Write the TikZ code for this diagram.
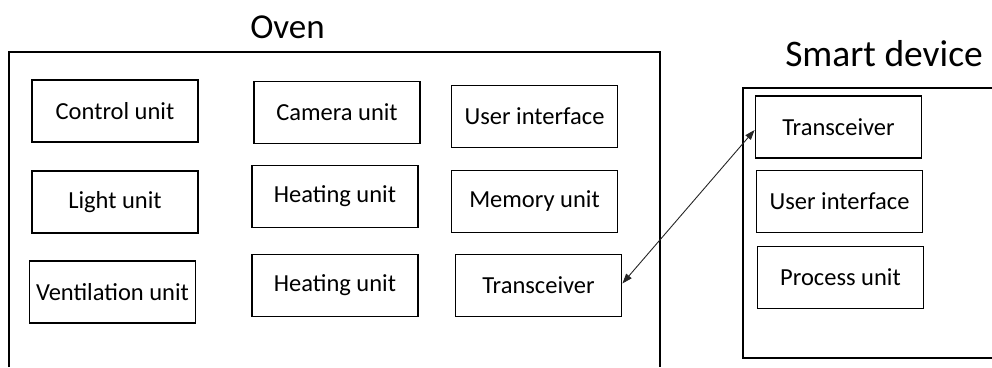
\documentclass[tikz,border=0pt]{standalone}
\usepackage{fontspec}
\setmainfont{Carlito}
\usetikzlibrary{arrows.meta}
\tikzset{
  unitbox/.style={draw, line width=1.8pt, minimum width=166pt, minimum height=62pt,
    inner sep=0pt, font=\fontsize{24.5}{28}\selectfont},
  titletext/.style={anchor=base, inner sep=0pt, font=\fontsize{35}{40}\selectfont},
  frame/.style={line width=1.6pt},
  link/.style={{Triangle[length=10pt,width=7pt]}-{Triangle[length=10pt,width=7pt]}, line width=0.9pt, black!85}
}
\begin{document}
\begin{tikzpicture}[x=1pt, y=-1pt]
  \useasboundingbox (0,0) rectangle (992,367);
  % Group frames (cut off by the page edge)
  \draw[frame] (9,367) -- (9,52) -- (660,52) -- (660,367);
  \draw[frame] (992,88) -- (743,88) -- (743,358) -- (992,358);
  % Titles
  \node[titletext] (ovenlbl) at (287.5,38) {Oven};
  \node[titletext, font=\fontsize{37.5}{42}\selectfont] (devlbl) at (884,66) {Smart device};
  % Oven units
  \foreach \nm/\x/\y/\lab in {ctrl/115/111/Control unit, light/115/202/Light unit,
      vent/112.5/292/Ventilation unit, cam/337/112.5/Camera unit,
      heatA/335/196.5/Heating unit, heatB/335/285.5/Heating unit,
      uiOven/534.5/116.5/User interface, mem/534.5/201.5/Memory unit,
      trxOven/538.5/285.5/Transceiver} {
    \node[unitbox] (\nm) at (\x,\y) {\lab};
  }
  % Smart device units
  \foreach \nm/\x/\y/\lab in {trxDev/838.5/127/Transceiver,
      uiDev/839.5/201.5/User interface, proc/840.5/277.5/Process unit} {
    \node[unitbox] (\nm) at (\x,\y) {\lab};
  }
  % Link between transceivers
  \draw[link] ([yshift=2pt]trxOven.east) -- ([yshift=-3pt]trxDev.west);
\end{tikzpicture}
\end{document}
